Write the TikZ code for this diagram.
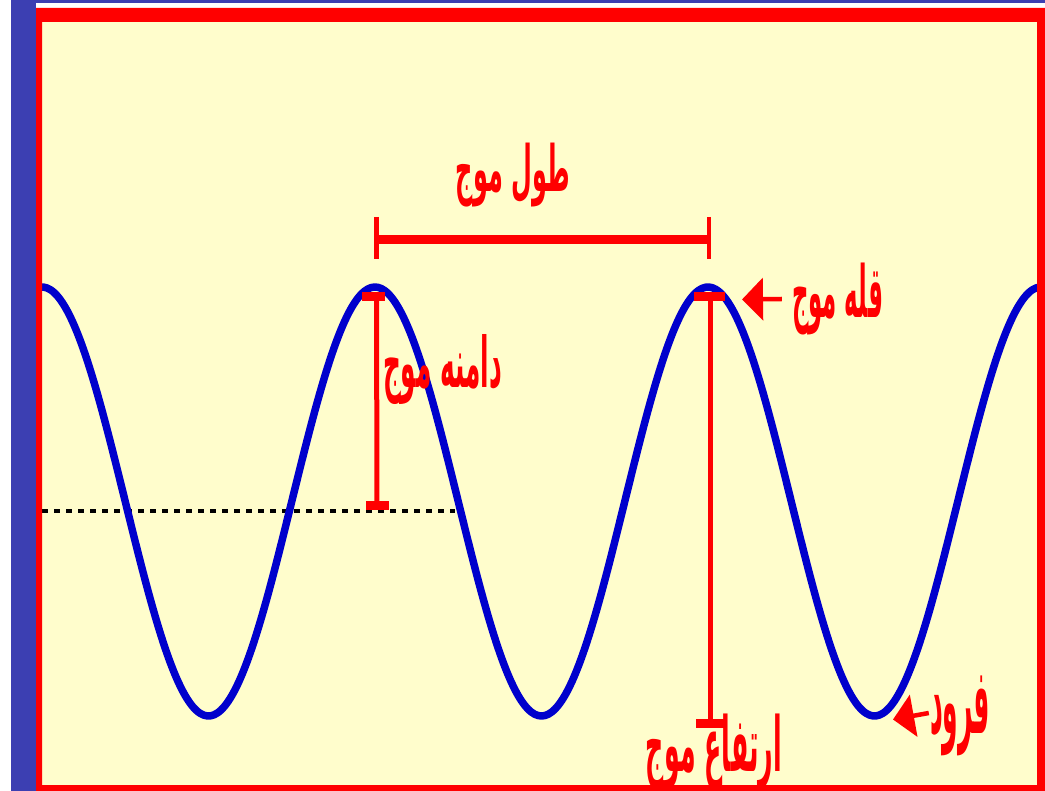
\documentclass[tikz,border=0pt]{standalone}
\usepackage{fontspec}
\usepackage{graphicx}
\usetikzlibrary{arrows.meta}
\TeXXeTstate=1
\newfontfamily\arabicfont[Script=Arabic]{DejaVu Sans}
\definecolor{bgblue}{HTML}{3C3FB2}
\definecolor{paper}{HTML}{FFFDCC}
\definecolor{waveblue}{HTML}{0000CC}
\definecolor{lblred}{HTML}{FF0000}
\newcommand{\artext}[3]{\resizebox*{#1}{#2}{\arabicfont\bfseries #3}}
\tikzset{
  lbl/.style={inner sep=0pt, text=lblred},
  dimbar/.style={draw=lblred, line width=5pt},
  capbar/.style={draw=lblred, line width=9pt},
  pointer/.style={draw=lblred, line width=4.5pt, -{Triangle[width=42pt,length=21pt]}},
}
\begin{document}
\begin{tikzpicture}[x=1pt,y=-1pt]
\useasboundingbox (0,0) rectangle (1045,791);
% background
\fill[white] (0,0) rectangle (1045,791);
\fill[bgblue] (11,0) rectangle (36,791);
\fill[bgblue] (36,0) rectangle (1045,3);
\fill[paper] (42,22) rectangle (1037,785);
% midline
\draw[black, line width=4pt, dash pattern=on 6pt off 6pt] (42,511) -- (455,511);
% wave
\begin{scope}
\clip (42,22) rectangle (1037,785);
\draw[waveblue, line width=7.5pt, line join=round]
  plot[domain=30:1050, samples=300, smooth] (\x, {501.5-214.5*cos(1.081081*(\x-42))});
\end{scope}
% wavelength bar
\coordinate (wl1) at (376.5,239.5);
\coordinate (wl2) at (709,239.5);
\draw[draw=lblred, line width=9pt] (wl1) -- (wl2);
\draw[draw=lblred, line width=4.5pt] (376.5,217) -- (376.5,259);
\draw[draw=lblred, line width=4.5pt] (709,217) -- (709,259);
% amplitude bar
\coordinate (am1) at (376.5,296.5);
\coordinate (am2) at (377,505.5);
\draw[dimbar] (am1) -- (am2);
\draw[capbar] (362,296.5) -- (385,296.5);
\draw[capbar] (366,505.5) -- (389,505.5);
% height bar
\coordinate (ht1) at (710.5,296.5);
\coordinate (ht2) at (710.5,723);
\draw[dimbar] (ht1) -- (ht2);
\draw[capbar] (694,296.5) -- (725,296.5);
\draw[capbar] (696,723) -- (725,723);
% labels
\node[lbl] (wavelength) at (513,175) {\artext{114pt}{64pt}{\beginR طول موج\endR}};
\node[lbl] (crest) at (837.5,299) {\artext{91pt}{72pt}{\beginR قله موج\endR}};
\node[lbl] (amplitude) at (442.5,370) {\artext{119pt}{70pt}{\beginR دامنه موج\endR}};
\node[lbl] (height) at (714,752) {\artext{136pt}{76pt}{\beginR ارتفاع موج\endR}};
\node[lbl] (trough) at (960,716) {\artext{60pt}{80pt}{\beginR فرود\endR}};
% pointers
\coordinate (crestTip) at (742,299.5);
\coordinate (troughTip) at (893,719.5);
\draw[pointer] (crest.west) ++(-10pt,0) -- (crestTip);
\draw[pointer] (trough.west) ++(-1pt,3pt) -- (troughTip);
% frame
\fill[lblred, even odd rule] (36,8) rectangle (1045,791) (42,22) rectangle (1037,785);
\end{tikzpicture}
\end{document}
